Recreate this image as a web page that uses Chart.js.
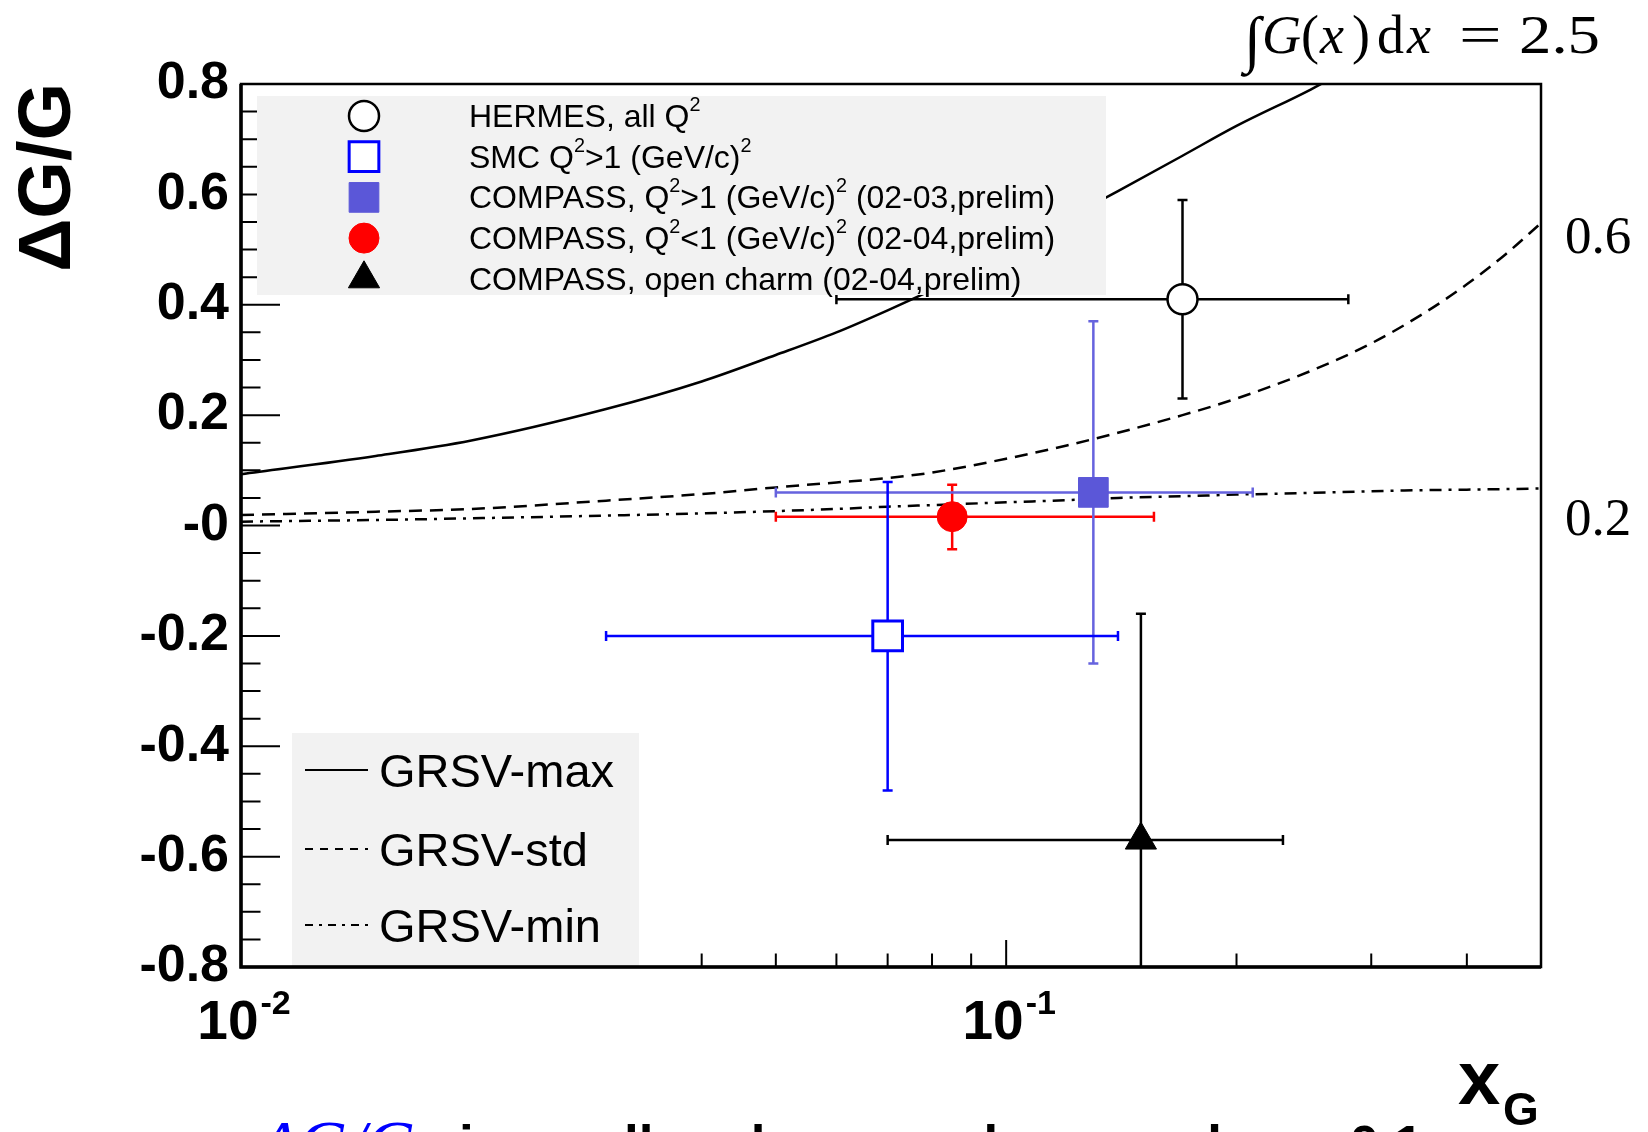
<!DOCTYPE html>
<html>
<head>
<meta charset="utf-8">
<script src="https://cdn.jsdelivr.net/npm/chart.js@4.4.0/dist/chart.umd.min.js"></script>
<style>
    html, body { margin: 0; padding: 0; background: #ffffff; overflow: hidden; }
    #grafico { display: block; }
</style>
</head>
<body>
<canvas id="grafico" width="1648" height="1132"></canvas>
<script>
// Curvas GRSV
const xCurva  = [0.01, 0.015, 0.02, 0.03, 0.04, 0.05, 0.06, 0.07, 0.08, 0.1, 0.12, 0.14, 0.17, 0.2, 0.25, 0.3, 0.35, 0.4, 0.45, 0.5];
const grsvMax = [0.093, 0.126, 0.154, 0.211, 0.261, 0.309, 0.350, 0.390, 0.427, 0.495, 0.556, 0.606, 0.670, 0.724, 0.790, 0.850, 0.900, 0.950, 0.990, 1.030];
const grsvStd = [0.019, 0.025, 0.030, 0.045, 0.057, 0.069, 0.078, 0.086, 0.096, 0.121, 0.145, 0.168, 0.200, 0.230, 0.280, 0.330, 0.383, 0.437, 0.492, 0.548];
const grsvMin = [0.007, 0.010, 0.013, 0.018, 0.022, 0.026, 0.030, 0.034, 0.037, 0.042, 0.046, 0.050, 0.053, 0.056, 0.059, 0.062, 0.064, 0.065, 0.066, 0.067];
const nomesCurvas = ['GRSV-max', 'GRSV-std', 'GRSV-min'];
const integraisCurvas = ['2.5', '0.6', '0.2'];

// Medidas
const nomesPontos = [
    'HERMES, all Q^2',
    'SMC Q^2>1 (GeV/c)^2',
    'COMPASS, Q^2>1 (GeV/c)^2 (02-03,prelim)',
    'COMPASS, Q^2<1 (GeV/c)^2 (02-04,prelim)',
    'COMPASS, open charm (02-04,prelim)'
];
const xPontos   = [0.17, 0.07, 0.13, 0.085, 0.15];
const yPontos   = [0.41, -0.20, 0.06, 0.016, -0.57];
const xErroMin  = [0.06, 0.030, 0.050, 0.050, 0.070];
const xErroMax  = [0.28, 0.140, 0.210, 0.156, 0.230];
const yErroMin  = [0.23, -0.48, -0.25, -0.043, -0.98];
const yErroMax  = [0.59, 0.079, 0.37, 0.074, -0.16];

// Eixos
const yTicksMaiores = [-0.8, -0.6, -0.4, -0.2, 0, 0.2, 0.4, 0.6, 0.8];
const xTicksMaiores = [0.01, 0.1];
const xTicksMenores = [0.02, 0.03, 0.04, 0.05, 0.06, 0.07, 0.08, 0.09, 0.2, 0.3, 0.4, 0.5];
const xRotulos = [['10', '-2'], ['10', '-1']];

const SANS = '"Liberation Sans", Arial, sans-serif';
const SERIF = '"Liberation Serif", "DejaVu Serif", serif';

const estilosPontos = [
    { forma: 'circle',   raio: 15, fundo: '#ffffff', borda: '#000000', barra: '#000000', largura: 2.5 },
    { forma: 'rect',     raio: 21, fundo: '#ffffff', borda: '#0000ff', barra: '#0000ff', largura: 3 },
    { forma: 'rect',     raio: 21, fundo: '#5b57d8', borda: '#5b57d8', barra: '#6663de', largura: 1 },
    { forma: 'circle',   raio: 15, fundo: '#ff0000', borda: '#ff0000', barra: '#ff0000', largura: 1 },
    { forma: 'triangle', raio: 18, fundo: '#000000', borda: '#000000', barra: '#000000', largura: 1 }
];
const tracosCurvas  = [[], [13, 8], [12, 7, 3, 7]];
const tracosLegenda = [[], [8, 7], [8, 6, 3, 6]];

function desenharMarcador(ctx, e, x, y) {
    ctx.save();
    ctx.fillStyle = e.fundo;
    ctx.strokeStyle = e.borda;
    ctx.lineWidth = e.largura;
    ctx.beginPath();
    if (e.forma === 'circle') {
        ctx.arc(x, y, e.raio, 0, Math.PI * 2);
    } else if (e.forma === 'rect') {
        const s = e.raio * Math.SQRT1_2;
        ctx.rect(x - s, y - s, 2 * s, 2 * s);
    } else {
        const r = e.raio;
        ctx.moveTo(x, y - r);
        ctx.lineTo(x + r * Math.sin(Math.PI / 3), y + r / 2);
        ctx.lineTo(x - r * Math.sin(Math.PI / 3), y + r / 2);
        ctx.closePath();
    }
    ctx.fill();
    ctx.stroke();
    ctx.restore();
}

// texto com expoentes marcados por ^
function escreverRico(ctx, texto, x, yBase, tam, peso) {
    const partes = texto.split(/\^(.)/);
    let cx = x;
    partes.forEach((p, k) => {
        const sup = k % 2 === 1;
        const t = sup ? tam * 0.62 : tam;
        ctx.font = `${peso} ${t}px ${SANS}`;
        ctx.fillText(p, cx, sup ? yBase - tam * 0.5 : yBase);
        cx += ctx.measureText(p).width;
    });
}

function desenharBarrasErro(chart, i) {
    const { ctx, chartArea: a, scales: { x, y } } = chart;
    const px = x.getPixelForValue(xPontos[i]);
    const py = y.getPixelForValue(yPontos[i]);
    const x1 = x.getPixelForValue(xErroMin[i]);
    const x2 = x.getPixelForValue(xErroMax[i]);
    const y1 = y.getPixelForValue(yErroMin[i]);
    const y2 = y.getPixelForValue(yErroMax[i]);
    const c = 5;
    ctx.save();
    ctx.beginPath();
    ctx.rect(a.left, a.top, a.right - a.left, a.bottom - a.top);
    ctx.clip();
    ctx.strokeStyle = estilosPontos[i].barra;
    ctx.lineWidth = 2.5;
    ctx.beginPath();
    ctx.moveTo(x1, py); ctx.lineTo(x2, py);
    ctx.moveTo(px, y1); ctx.lineTo(px, y2);
    ctx.moveTo(x1, py - c); ctx.lineTo(x1, py + c);
    ctx.moveTo(x2, py - c); ctx.lineTo(x2, py + c);
    ctx.moveTo(px - c, y1); ctx.lineTo(px + c, y1);
    ctx.moveTo(px - c, y2); ctx.lineTo(px + c, y2);
    ctx.stroke();
    ctx.restore();
}

function desenharTicks(chart) {
    const { ctx, chartArea: a, scales: { x, y } } = chart;
    ctx.save();
    ctx.strokeStyle = '#000';
    ctx.lineWidth = 2;
    ctx.beginPath();
    yTicksMaiores.forEach((v, k) => {
        const p = y.getPixelForValue(v);
        ctx.moveTo(a.left, p); ctx.lineTo(a.left + 39, p);
        if (k < yTicksMaiores.length - 1) {
            const passo = (yTicksMaiores[k + 1] - v) / 4;
            for (let m = 1; m < 4; m++) {
                const pm = y.getPixelForValue(v + passo * m);
                ctx.moveTo(a.left, pm); ctx.lineTo(a.left + 19.5, pm);
            }
        }
    });
    xTicksMaiores.forEach(v => {
        const p = x.getPixelForValue(v);
        ctx.moveTo(p, a.bottom); ctx.lineTo(p, a.bottom - 27);
    });
    xTicksMenores.forEach(v => {
        const p = x.getPixelForValue(v);
        ctx.moveTo(p, a.bottom); ctx.lineTo(p, a.bottom - 13.5);
    });
    ctx.stroke();
    ctx.restore();
}

function desenharLegendas(chart) {
    const ctx = chart.ctx;
    ctx.save();
    ctx.fillStyle = '#f2f2f2';
    ctx.fillRect(257, 96, 849, 199);
    nomesPontos.forEach((nome, i) => {
        const yl = 116 + i * 40.7;
        desenharMarcador(ctx, estilosPontos[i], 364, yl);
        ctx.fillStyle = '#000';
        escreverRico(ctx, nome, 469, yl + 11, 32, 'normal');
    });

    ctx.fillStyle = '#f2f2f2';
    ctx.fillRect(292, 733, 347, 234);
    const yLinhas = [770, 849, 925];
    nomesCurvas.forEach((nome, i) => {
        const yl = yLinhas[i];
        ctx.strokeStyle = '#000';
        ctx.lineWidth = 2;
        ctx.setLineDash(tracosLegenda[i]);
        ctx.beginPath();
        ctx.moveTo(305, yl); ctx.lineTo(368, yl);
        ctx.stroke();
        ctx.setLineDash([]);
        ctx.fillStyle = '#000';
        escreverRico(ctx, nome, 379, yl + 17, 47, 'normal');
    });
    ctx.restore();
}

function desenharMoldura(chart) {
    const { ctx, chartArea: a } = chart;
    ctx.save();
    ctx.strokeStyle = '#000';
    ctx.lineWidth = 2.5;
    ctx.strokeRect(a.left, a.top, a.right - a.left, a.bottom - a.top);
    ctx.lineWidth = 3.5;
    ctx.beginPath();
    ctx.moveTo(a.left, a.top); ctx.lineTo(a.left, a.bottom); ctx.lineTo(a.right, a.bottom);
    ctx.stroke();
    ctx.restore();
}

function desenharTextos(chart) {
    const { ctx, scales: { x, y } } = chart;
    ctx.save();
    ctx.fillStyle = '#000';
    ctx.textBaseline = 'alphabetic';

    // titulo do eixo y
    ctx.save();
    ctx.translate(70, 83);
    ctx.rotate(-Math.PI / 2);
    ctx.textAlign = 'right';
    ctx.font = `bold 74px ${SANS}`;
    ctx.fillText('\u0394G/G', 0, 0);
    ctx.restore();

    // rotulos do eixo x: 10^-2, 10^-1
    xTicksMaiores.forEach((v, k) => {
        const p = x.getPixelForValue(v);
        ctx.font = `bold 55px ${SANS}`;
        const w1 = ctx.measureText(xRotulos[k][0]).width;
        ctx.font = `bold 34px ${SANS}`;
        const w2 = ctx.measureText(xRotulos[k][1]).width;
        const x0 = p - (w1 + w2) / 2 + 2;
        ctx.font = `bold 55px ${SANS}`;
        ctx.fillText(xRotulos[k][0], x0, 1039);
        ctx.font = `bold 34px ${SANS}`;
        ctx.fillText(xRotulos[k][1], x0 + w1 + 2, 1014);
    });

    // titulo do eixo x
    ctx.font = `bold 76px ${SANS}`;
    ctx.fillText('x', 1458, 1104);
    ctx.font = `bold 46px ${SANS}`;
    ctx.fillText('G', 1503, 1125);

    // integrais das curvas
    ctx.font = `62px ${SERIF}`;
    ctx.fillText('\u222B', 1244, 60);
    const partes = [['G', 'italic ', 1262], ['(', '', 1301], ['x', 'italic ', 1320], [')', '', 1352], ['d', '', 1377], ['x', 'italic ', 1407]];
    partes.forEach(([t, est, px]) => {
        ctx.font = `${est}54px ${SERIF}`;
        ctx.fillText(t, px, 53);
    });
    ctx.font = `54px ${SERIF}`;
    ctx.save();
    ctx.translate(1459, 53);
    ctx.scale(1.4, 1);
    ctx.fillText('=', 0, 0);
    ctx.restore();
    ctx.save();
    ctx.translate(1519, 53);
    ctx.scale(1.2, 1);
    ctx.fillText(integraisCurvas[0], 0, 0);
    ctx.restore();

    ctx.font = `53px ${SERIF}`;
    ctx.fillText(integraisCurvas[1], 1565, 253);
    ctx.fillText(integraisCurvas[2], 1565, 535);

    // frase cortada no rodape
    ctx.fillStyle = '#0000ff';
    ctx.font = `italic 68px ${SERIF}`;
    ctx.fillText('\u0394G/G', 258, 1167);
    ctx.fillStyle = '#000';
    ctx.font = `bold 53px ${SANS}`;
    const frase = 'is small, or has a node around x';
    ctx.fillText(frase, 459, 1163);
    let fx = 459 + ctx.measureText(frase).width;
    ctx.font = `bold 32px ${SANS}`;
    ctx.fillText('G', fx, 1176);
    fx += ctx.measureText('G').width;
    ctx.font = `bold 53px ${SANS}`;
    ctx.fillText(' \u2248 0.1', fx, 1163);

    ctx.restore();
}

const pluginRoot = {
    id: 'estiloRoot',
    beforeDatasetDraw(chart, args) {
        const ds = chart.data.datasets[args.index];
        if (ds.indicePonto !== undefined) desenharBarrasErro(chart, ds.indicePonto);
    },
    afterDatasetsDraw(chart) {
        desenharTicks(chart);
        desenharLegendas(chart);
        desenharMoldura(chart);
    },
    afterDraw(chart) {
        desenharTextos(chart);
    }
};

function criarGrafico() {
    const ctx = document.getElementById('grafico').getContext('2d');

    const curvas = [grsvMax, grsvStd, grsvMin].map((valores, i) => ({
        type: 'line',
        label: nomesCurvas[i],
        data: xCurva.map((xv, k) => ({ x: xv, y: valores[k] })),
        borderColor: '#000000',
        borderWidth: 2.5,
        borderDash: tracosCurvas[i],
        pointRadius: 0,
        cubicInterpolationMode: 'monotone',
        fill: false,
        order: 10
    }));

    const pontos = nomesPontos.map((nome, i) => ({
        type: 'scatter',
        label: nome,
        data: [{ x: xPontos[i], y: yPontos[i] }],
        pointStyle: estilosPontos[i].forma,
        pointRadius: estilosPontos[i].raio,
        pointBackgroundColor: estilosPontos[i].fundo,
        pointBorderColor: estilosPontos[i].borda,
        pointBorderWidth: estilosPontos[i].largura,
        indicePonto: i,
        order: 1
    }));

    new Chart(ctx, {
        type: 'scatter',
        data: { datasets: [...pontos, ...curvas] },
        options: {
            responsive: false,
            animation: false,
            devicePixelRatio: 1,
            layout: { padding: { top: 84, right: 107, left: 0, bottom: 0 } },
            plugins: { legend: { display: false }, tooltip: { enabled: false } },
            scales: {
                x: {
                    type: 'logarithmic',
                    min: 0.01,
                    max: 0.5,
                    grid: { display: false, drawTicks: false },
                    border: { display: false },
                    ticks: { display: false },
                    afterFit: (scale) => { scale.height = 165; }
                },
                y: {
                    type: 'linear',
                    min: -0.8,
                    max: 0.8,
                    grid: { display: false, drawTicks: false },
                    border: { display: false },
                    afterBuildTicks: (scale) => { scale.ticks = yTicksMaiores.map(v => ({ value: v })); },
                    ticks: {
                        color: '#000',
                        padding: 12,
                        font: { family: 'Liberation Sans', size: 52, weight: 'bold' },
                        callback: (v) => Math.abs(v) < 1e-9 ? '-0' : Number(v).toFixed(1)
                    },
                    afterFit: (scale) => { scale.width = 241; }
                }
            }
        },
        plugins: [pluginRoot]
    });
}

document.addEventListener('DOMContentLoaded', criarGrafico);
</script>
</body>
</html>
